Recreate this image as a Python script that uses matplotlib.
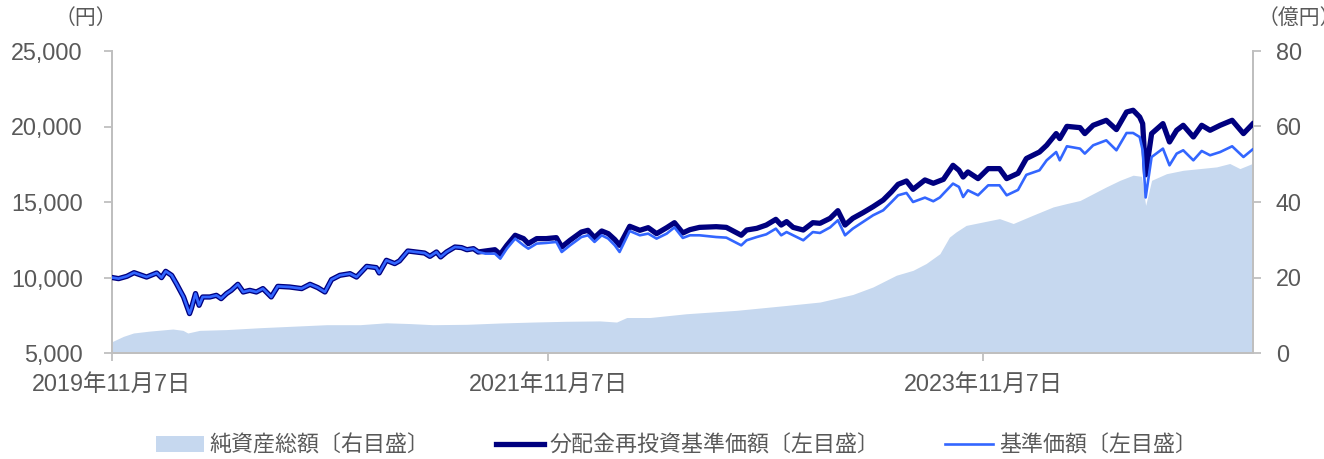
import matplotlib
matplotlib.use("Agg")
import matplotlib.pyplot as plt
import pandas as pd
from matplotlib.patches import Patch
from matplotlib.lines import Line2D

# ---------------- data ----------------
line_dates = [
    "2019-11-07", "2019-11-18", "2019-12-02", "2019-12-14", "2019-12-27", "2020-01-04",
    "2020-01-21", "2020-01-29", "2020-02-05", "2020-02-15", "2020-02-23", "2020-02-29",
    "2020-03-06", "2020-03-16", "2020-03-19", "2020-03-26", "2020-04-01", "2020-04-07",
    "2020-04-19", "2020-04-30", "2020-05-08", "2020-05-17", "2020-05-25", "2020-06-05",
    "2020-06-14", "2020-06-25", "2020-07-06", "2020-07-17", "2020-07-31", "2020-08-11",
    "2020-08-31", "2020-09-20", "2020-10-04", "2020-10-17", "2020-10-29", "2020-11-09",
    "2020-11-23", "2020-12-10", "2020-12-21", "2021-01-07", "2021-01-23", "2021-01-28",
    "2021-02-09", "2021-02-23", "2021-03-03", "2021-03-17", "2021-03-31", "2021-04-14",
    "2021-04-23", "2021-05-04", "2021-05-11", "2021-05-21", "2021-06-04", "2021-06-15",
    "2021-06-24", "2021-07-05", "2021-07-13",
    "2021-07-25", "2021-08-10", "2021-08-19", "2021-08-30", "2021-09-13", "2021-09-27",
    "2021-10-05", "2021-10-19", "2021-11-04", "2021-11-21", "2021-11-30", "2021-12-14",
    "2022-01-02", "2022-01-13", "2022-01-24", "2022-02-05", "2022-02-16", "2022-02-27",
    "2022-03-07", "2022-03-24", "2022-04-10", "2022-04-24", "2022-05-08", "2022-05-25",
    "2022-06-07", "2022-06-21", "2022-07-03", "2022-07-19", "2022-08-16", "2022-09-02",
    "2022-09-27", "2022-10-06", "2022-10-23", "2022-11-08", "2022-11-24", "2022-12-03",
    "2022-12-12", "2022-12-23", "2023-01-09", "2023-01-25", "2023-02-06", "2023-02-23",
    "2023-03-08", "2023-03-20", "2023-04-02", "2023-04-19", "2023-05-06", "2023-05-23",
    "2023-06-06", "2023-06-17", "2023-07-01", "2023-07-12", "2023-08-01", "2023-08-15",
    "2023-08-26", "2023-09-01", "2023-09-17", "2023-09-27", "2023-10-04", "2023-10-12",
    "2023-10-29", "2023-11-15", "2023-12-04", "2023-12-16", "2024-01-04", "2024-01-18",
    "2024-02-09", "2024-02-21", "2024-03-08", "2024-03-14", "2024-03-26", "2024-04-17",
    "2024-04-25", "2024-05-09", "2024-05-31", "2024-06-17", "2024-07-04", "2024-07-15",
    "2024-07-26", "2024-07-31", "2024-08-05", "2024-08-15", "2024-09-03", "2024-09-14",
    "2024-09-26", "2024-10-07", "2024-10-24", "2024-11-07", "2024-11-21", "2024-12-08",
    "2024-12-28", "2025-01-16", "2025-01-31",
]

# 分配金再投資基準価額 (円)
nav_reinvested = [
    10000, 9925, 10080, 10320, 10145, 10030,
    10300, 9990, 10410, 10145, 9595, 9150,
    8710, 7610, 7940, 8935, 8160, 8710,
    8710, 8820, 8600, 8935, 9150, 9550,
    9040, 9150, 9040, 9265, 8710, 9415,
    9370, 9265, 9550, 9330, 9040, 9860,
    10145, 10255, 10030, 10740, 10655, 10300,
    11140, 10920, 11100, 11755, 11690, 11620,
    11400, 11690, 11360, 11690, 12020, 11980,
    11840, 11910, 11690,
    11755, 11840, 11535, 12130, 12795, 12575,
    12245, 12575, 12575, 12640, 12020, 12465,
    13010, 13125, 12640, 13080, 12905, 12510,
    12130, 13390, 13125, 13300, 12905, 13300,
    13630, 12950, 13170, 13320, 13365, 13320,
    12800, 13145, 13255, 13475, 13850, 13475,
    13700, 13320, 13145, 13630, 13590, 13920,
    14425, 13475, 13920, 14290, 14690, 15130,
    15680, 16170, 16390, 15840, 16460, 16240,
    16410, 16500, 17430, 17100, 16655, 16990,
    16550, 17210, 17210, 16550, 16900, 17880,
    18310, 18755, 19530, 19200, 20010, 19925,
    19530, 20080, 20410, 19795, 20960, 21075,
    20630, 20190, 16800, 19530, 20190, 18975,
    19750, 20080, 19305, 20080, 19750, 20080,
    20410, 19530, 20150,
]

# 基準価額 (円)
nav = [
    10000, 9925, 10080, 10320, 10145, 10030,
    10300, 9990, 10410, 10145, 9595, 9150,
    8710, 7610, 7940, 8935, 8160, 8710,
    8710, 8820, 8600, 8935, 9150, 9550,
    9040, 9150, 9040, 9265, 8710, 9415,
    9370, 9265, 9550, 9330, 9040, 9860,
    10145, 10255, 10030, 10740, 10655, 10300,
    11140, 10920, 11100, 11755, 11690, 11620,
    11400, 11690, 11360, 11690, 12020, 11980,
    11840, 11910, 11690,
    11580, 11580, 11250, 11910, 12575, 12130,
    11910, 12245, 12290, 12355, 11690, 12130,
    12680, 12795, 12355, 12795, 12575, 12130,
    11690, 13080, 12795, 12905, 12575, 12905,
    13320, 12620, 12795, 12795, 12680, 12640,
    12130, 12465, 12680, 12860, 13235, 12795,
    13010, 12795, 12465, 13010, 12950, 13320,
    13790, 12795, 13235, 13675, 14120, 14450,
    15000, 15445, 15600, 15000, 15290, 15050,
    15300, 15555, 16218, 16000, 15330, 15775,
    15445, 16105, 16105, 15445, 15800, 16800,
    17100, 17760, 18310, 17760, 18690, 18535,
    18205, 18755, 19085, 18425, 19570, 19570,
    19305, 18425, 15300, 17980, 18535, 17430,
    18205, 18425, 17760, 18380, 18095, 18310,
    18690, 17980, 18470,
]

area_dates = [
    "2019-11-07", "2019-11-26", "2019-12-13", "2020-01-09", "2020-02-17", "2020-03-05",
    "2020-03-13", "2020-04-02", "2020-05-17", "2020-07-12", "2020-09-06", "2020-11-01",
    "2020-12-27", "2021-02-09", "2021-03-20", "2021-04-28", "2021-06-24", "2021-08-19",
    "2021-10-13", "2021-12-08", "2022-02-02", "2022-03-02", "2022-03-19", "2022-04-27",
    "2022-06-27", "2022-09-19", "2022-12-12", "2023-02-06", "2023-04-02", "2023-05-06",
    "2023-06-14", "2023-07-12", "2023-08-03", "2023-08-26", "2023-09-11", "2023-09-22",
    "2023-10-09", "2023-11-06", "2023-12-04", "2023-12-27", "2024-01-29", "2024-03-03",
    "2024-03-26", "2024-04-17", "2024-05-09", "2024-05-31", "2024-06-23", "2024-07-15",
    "2024-07-29", "2024-08-05", "2024-08-15", "2024-09-09", "2024-10-07", "2024-11-04",
    "2024-12-02", "2024-12-24", "2025-01-10", "2025-01-31",
]

# 純資産総額 (億円)
net_assets = [
    3.0, 4.4, 5.3, 5.8, 6.35, 6.0,
    5.3, 6.0, 6.2, 6.7, 7.1, 7.5,
    7.5, 8.0, 7.8, 7.5, 7.6, 7.95,
    8.2, 8.4, 8.5, 8.2, 9.4, 9.4,
    10.4, 11.3, 12.6, 13.5, 15.5, 17.5,
    20.6, 21.9, 23.7, 26.3, 30.7, 32.05,
    33.8, 34.7, 35.6, 34.3, 36.5, 38.7,
    39.6, 40.4, 42.2, 44.0, 45.75, 47.1,
    46.8, 39.1, 45.75, 47.5, 48.4, 48.85,
    49.3, 50.2, 48.85, 50.2,
]

left_ticks = [5000, 10000, 15000, 20000, 25000]
right_ticks = [0, 20, 40, 60, 80]
x_tick_dates = ["2019-11-07", "2021-11-07", "2023-11-07"]
x_tick_labels = ["2019年11月7日", "2021年11月7日", "2023年11月7日"]
legend_labels = ["純資産総額〔右目盛〕", "分配金再投資基準価額〔左目盛〕", "基準価額〔左目盛〕"]

# ---------------- styling ----------------
FONT = ["Liberation Sans", "Noto Sans CJK JP", "DejaVu Sans"]
plt.rcParams["font.family"] = FONT
TXT = "#595959"
AX = "#bfbfbf"
C_AREA = "#c6d8ef"
C_DARK = "#00007f"
C_LIGHT = "#3366ff"
FS_TICK = 16.8
FS_LEG = 15.8
FS_UNIT = 15

W, H = 1324, 459
fig = plt.figure(figsize=(W / 100, H / 100), dpi=100)
L, R, T, B = 112, 1253, 51, 353
ax = fig.add_axes([L / W, 1 - B / H, (R - L) / W, (B - T) / H])
ax2 = ax.twinx()

ld = pd.to_datetime(line_dates)
ad = pd.to_datetime(area_dates)

ax2.fill_between(ad, 0, net_assets, color=C_AREA, lw=0, zorder=1)
ax.plot(ld, nav_reinvested, color=C_DARK, lw=3.8, solid_joinstyle="round", zorder=3)
ax.plot(ld, nav, color=C_LIGHT, lw=1.9, solid_joinstyle="round", zorder=4)

ax.set_zorder(ax2.get_zorder() + 1)
ax.patch.set_visible(False)

ax.set_xlim(pd.Timestamp("2019-11-07"), pd.Timestamp("2025-02-01"))
ax.set_ylim(5000, 25000)
ax2.set_ylim(0, 80)

ax.set_yticks(left_ticks)
ax.set_yticklabels([f"{v:,}" for v in left_ticks])
ax2.set_yticks(right_ticks)
ax2.set_yticklabels([str(v) for v in right_ticks])
ax.set_xticks(pd.to_datetime(x_tick_dates))
ax.set_xticklabels(x_tick_labels)

for a in (ax, ax2):
    for s in a.spines.values():
        s.set_color(AX)
        s.set_linewidth(1.3)
    a.spines["top"].set_visible(False)
ax.tick_params(axis="y", colors=AX, labelcolor=TXT, labelsize=FS_TICK, length=6, width=1.3, pad=15)
ax.tick_params(axis="x", colors=AX, labelcolor=TXT, labelsize=FS_TICK, length=6, width=1.3, pad=8)
ax2.tick_params(axis="y", colors=AX, labelcolor=TXT, labelsize=FS_TICK, length=6, width=1.3, pad=10.5)

fig.text(86 / W, 1 - 18 / H, "（円）", ha="center", va="center", color=TXT, fontsize=FS_UNIT)
fig.text(1258 / W, 1 - 18 / H, "（億円）", ha="left", va="center", color=TXT, fontsize=FS_UNIT)

handles = [
    Patch(facecolor=C_AREA, edgecolor="none"),
    Line2D([], [], color=C_DARK, lw=3.8),
    Line2D([], [], color=C_LIGHT, lw=1.9),
]
fig.legend(handles, legend_labels, loc="center", bbox_to_anchor=(676.5 / W, 1 - 446 / H),
           ncol=3, frameon=False, fontsize=FS_LEG, labelcolor=TXT,
           handlelength=2.2, handletextpad=0.25, columnspacing=3.0,
           handleheight=0.7)

fig.savefig("out.png", dpi=100)
